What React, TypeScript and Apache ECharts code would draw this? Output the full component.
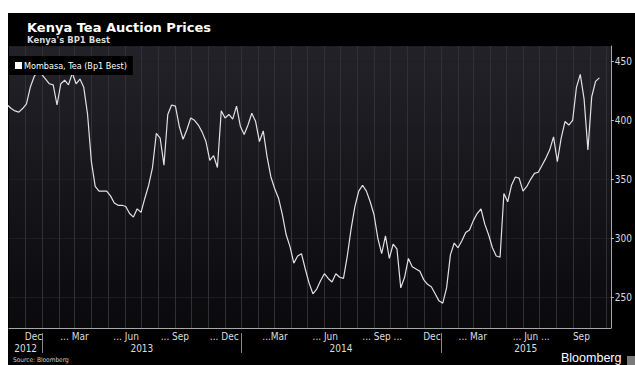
import React, { useEffect, useRef } from "react";
import * as echarts from "echarts";

const TITLE = "Kenya Tea Auction Prices";
const SUBTITLE = "Kenya's BP1 Best";
const SERIES_NAME = "Mombasa, Tea (Bp1 Best)";
const SOURCE = "Source: Bloomberg";
const BRAND = "Bloomberg";

// weekly auction prices, first auction week below
const FIRST_WEEK = "2012-10-29";
const prices = [
  413, 410, 408, 407, 410, 414, 428, 437, 442, 439,
  435, 431, 430, 413, 431, 434, 430, 440, 431, 435,
  428, 405, 365, 344, 340, 340, 340, 336, 330, 328,
  328, 327, 321, 318, 325, 322, 334, 345, 360, 389,
  385, 362, 405, 413, 412, 395, 384, 392, 402, 400,
  396, 390, 382, 366, 370, 360, 408, 402, 405, 401,
  412, 395, 388, 396, 406, 399, 382, 391, 369, 352,
  342, 334, 320, 303, 293, 279, 285, 287, 274, 262,
  253, 257, 264, 270, 266, 263, 270, 267, 266, 285,
  308, 327, 340, 345, 340, 331, 320, 300, 287, 302,
  283, 295, 291, 258, 267, 283, 276, 274, 272, 265,
  261, 259, 253, 247, 245, 258, 286, 296, 292, 298,
  305, 307, 315, 321, 325, 312, 303, 292, 285, 284,
  338, 331, 345, 352, 351, 340, 344, 350, 355, 356,
  362, 368, 375, 386, 365, 385, 399, 396, 400, 428,
  439, 418, 375, 420, 433, 436,
];

const monthLabelDates = [
  "2012-12-16", "2013-03-16", "2013-06-16", "2013-09-16",
  "2013-12-16", "2014-03-16", "2014-06-16", "2014-09-16",
  "2014-12-16", "2015-03-16", "2015-06-16", "2015-09-16",
];
const monthLabelTexts = [
  "Dec", "... Mar", "... Jun", "... Sep",
  "... Dec", "...Mar", "... Jun", "... Sep ...",
  "Dec", "... Mar", "... Jun ...", "Sep",
];
const yearLabels = ["2012", "2013", "2014", "2015"];
const yTickValues = [250, 300, 350, 400, 450];

const X_MIN = "2012-11-01";
const X_MAX = "2015-11-09";
const Y_MIN = 224;
const Y_MAX = 463;

const DAY = 86400000;
const ts = (s: string) => {
  const [y, m, d] = s.split("-").map(Number);
  return Date.UTC(y, m - 1, d);
};

const FONT = "'DejaVu Sans Condensed', 'DejaVu Sans', sans-serif";

export default function App() {
  const ref = useRef<HTMLDivElement>(null);

  useEffect(() => {
    if (!ref.current) return;
    const chart = echarts.init(ref.current, null, { renderer: "svg" });

    const start = ts(FIRST_WEEK);
    const lineData = prices.map((v, i) => [start + i * 7 * DAY, v]);

    const xMin = ts(X_MIN);
    const xMax = ts(X_MAX);

    // month boundaries for vertical grid lines
    const monthStarts: number[][] = [];
    {
      const d0 = new Date(xMin);
      let y = d0.getUTCFullYear();
      let m = d0.getUTCMonth() + 1;
      for (;;) {
        if (m > 11) { m = 0; y += 1; }
        const t = Date.UTC(y, m, 1);
        if (t >= xMax) break;
        monthStarts.push([t, Y_MIN]);
        m += 1;
      }
    }

    const yearData = yearLabels.map((yl, i) => [
      Date.UTC(Number(yl), 0, 1),
      Date.UTC(Number(yl) + 1, 0, 1),
      i,
    ]);

    const option: any = {
      animation: false,
      backgroundColor: "#000000",
      title: {
        text: TITLE,
        subtext: SUBTITLE,
        left: 14,
        top: 3,
        itemGap: 1,
        textStyle: {
          color: "#ffffff",
          fontSize: 13,
          fontWeight: "bold",
          fontFamily: "'DejaVu Sans', sans-serif",
        },
        subtextStyle: {
          color: "#d8d8d8",
          fontSize: 8.5,
          fontWeight: "bold",
          fontFamily: "'DejaVu Sans', sans-serif",
        },
      },
      legend: {
        data: [{ name: SERIES_NAME, icon: "rect" }],
        left: 1,
        top: 43,
        padding: [5, 6, 5, 6],
        backgroundColor: "#000000",
        itemWidth: 7,
        itemHeight: 7,
        selectedMode: false,
        textStyle: { color: "#ffffff", fontSize: 9, fontFamily: FONT, padding: [0, 0, 0, -3] },
      },
      grid: {
        left: 1,
        right: 21,
        top: 33,
        bottom: 37,
        show: true,
        borderWidth: 0,
        backgroundColor: {
          type: "linear",
          x: 0, y: 0, x2: 0, y2: 1,
          colorStops: [
            { offset: 0, color: "#222228" },
            { offset: 1, color: "#0a0a0d" },
          ],
        },
      },
      xAxis: {
        type: "time",
        min: xMin,
        max: xMax,
        axisLine: { show: true, lineStyle: { color: "#a8a8a8", width: 1 } },
        axisTick: { show: false },
        axisLabel: { show: false },
        splitLine: { show: false },
      },
      yAxis: {
        type: "value",
        position: "right",
        min: Y_MIN,
        max: Y_MAX,
        splitNumber: 5,
        axisLine: { show: true, lineStyle: { color: "#a8a8a8", width: 1 } },
        axisTick: { show: true, length: 3, lineStyle: { color: "#bbbbbb" } },
        axisLabel: {
          show: true,
          margin: 4,
          color: "#dddddd",
          fontSize: 10,
          fontFamily: FONT,
          showMinLabel: false,
          showMaxLabel: false,
          formatter: (v: number) => (yTickValues.includes(v) ? String(v) : ""),
        },
        splitLine: { show: true, lineStyle: { color: "#1d1d22", width: 1 } },
      },
      series: [
        {
          type: "custom",
          name: "monthGrid",
          z: 1,
          silent: true,
          data: monthStarts,
          encode: { x: 0, y: 1 },
          renderItem: (params: any, api: any) => {
            const x = Math.round(api.coord([api.value(0), Y_MIN])[0]) + 0.5;
            const cs = params.coordSys;
            return {
              type: "line",
              shape: { x1: x, y1: cs.y, x2: x, y2: cs.y + cs.height },
              style: { stroke: "#303037", lineWidth: 1 },
            };
          },
        },
        {
          type: "line",
          name: SERIES_NAME,
          z: 3,
          data: lineData,
          showSymbol: false,
          symbol: "none",
          lineStyle: { color: "#e2e2e2", width: 1.2 },
          itemStyle: { color: "#ffffff" },
        },
        {
          type: "custom",
          name: "monthLabels",
          z: 4,
          silent: true,
          data: monthLabelDates.map((d, i) => [ts(d), Y_MIN, i]),
          encode: { x: 0, y: 1 },
          renderItem: (params: any, api: any) => {
            const i = api.value(2);
            const text = monthLabelTexts[i];
            const x = api.coord([api.value(0), Y_MIN])[0];
            const cs = params.coordSys;
            const leading = text.startsWith("...") && !text.endsWith("...");
            return {
              type: "text",
              x: leading ? x + 6 : x,
              y: cs.y + cs.height + 3,
              style: {
                text,
                fill: "#dddddd",
                font: `10px ${FONT}`,
                align: leading ? "right" : "center",
                verticalAlign: "top",
              },
            };
          },
        },
        {
          type: "custom",
          name: "yearLabels",
          z: 4,
          silent: true,
          data: yearData.map((d) => [d[0], Y_MIN, d[2], d[1]]),
          encode: { x: 0, y: 1 },
          renderItem: (params: any, api: any) => {
            const i = api.value(2);
            const s = Math.max(api.value(0), xMin);
            const e = Math.min(api.value(3), xMax);
            const x1 = api.coord([s, Y_MIN])[0];
            const x2 = api.coord([e, Y_MIN])[0];
            const cs = params.coordSys;
            const children: any[] = [
              {
                type: "text",
                x: (x1 + x2) / 2,
                y: cs.y + cs.height + 15,
                style: {
                  text: yearLabels[i],
                  fill: "#dddddd",
                  font: `10px ${FONT}`,
                  align: "center",
                  verticalAlign: "top",
                },
              },
            ];
            if (api.value(0) > xMin) {
              const xs = Math.round(api.coord([api.value(0), Y_MIN])[0]) + 0.5;
              children.push({
                type: "line",
                shape: { x1: xs, y1: cs.y + cs.height + 5, x2: xs, y2: cs.y + cs.height + 25 },
                style: { stroke: "#8a8a8a", lineWidth: 1 },
              });
            }
            return { type: "group", children };
          },
        },
      ],
      graphic: [
        {
          type: "text",
          left: 5,
          top: 343,
          style: { text: SOURCE, fill: "#cfcfcf", font: `6.5px ${FONT}` },
        },
        {
          type: "text",
          left: 553,
          top: 338,
          style: { text: BRAND, fill: "#ffffff", font: "12.5px 'Liberation Sans', Arial, sans-serif" },
        },
        {
          type: "rect",
          left: 619,
          top: 343,
          shape: { width: 8, height: 9 },
          style: { fill: "#7a7a7a" },
        },
      ],
    };

    chart.setOption(option);
    return () => chart.dispose();
  }, []);

  return (
    <div
      ref={ref}
      style={{ position: "absolute", left: 8, top: 13, width: 627, height: 352 }}
    />
  );
}
